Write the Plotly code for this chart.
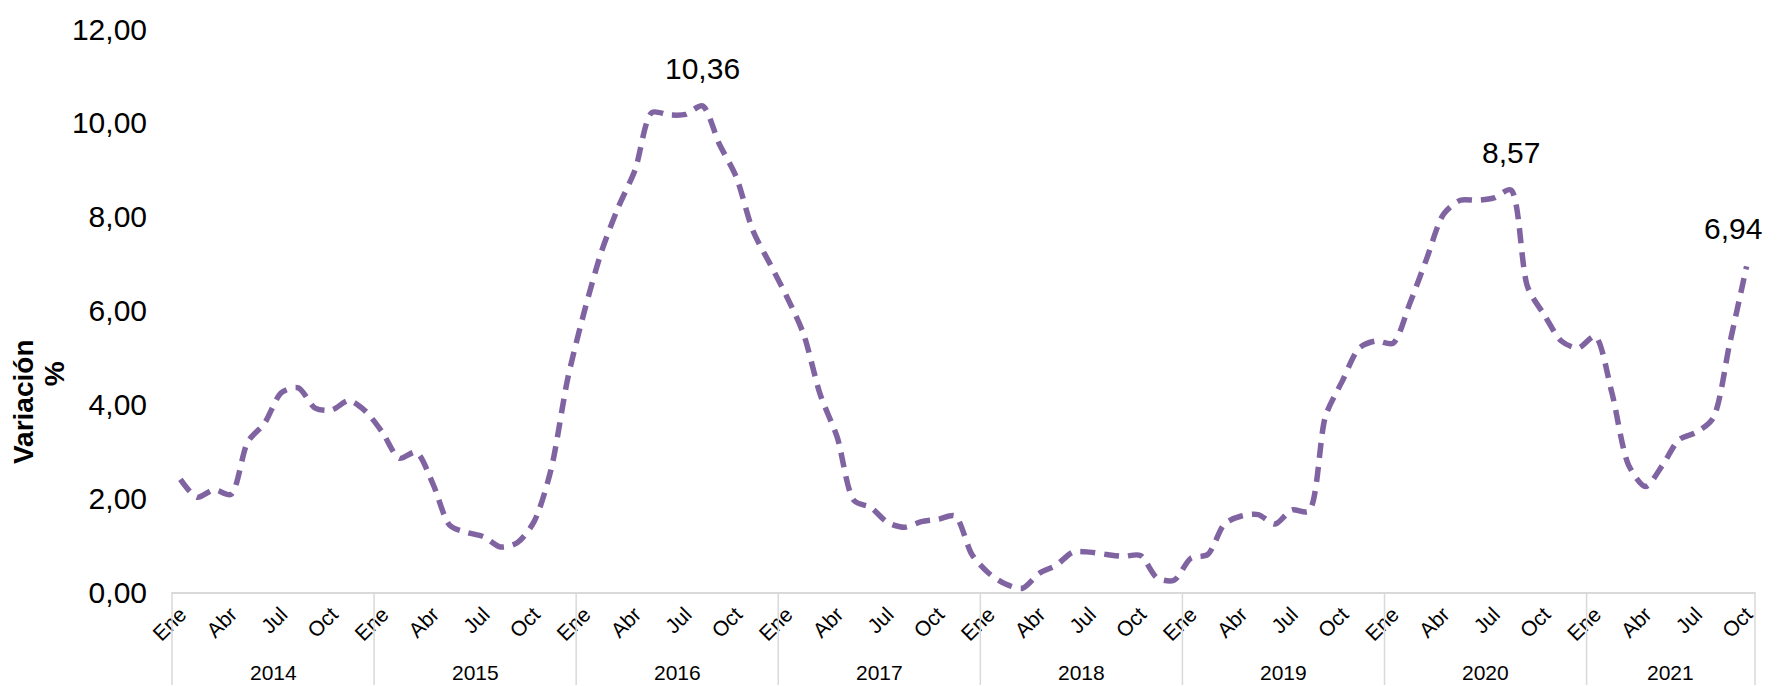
import plotly.graph_objects as go

years = ["2014", "2015", "2016", "2017", "2018", "2019", "2020", "2021"]
month_names = ["Ene", "Feb", "Mar", "Abr", "May", "Jun", "Jul", "Ago", "Sep", "Oct", "Nov", "Dic"]
shown_months = ["Ene", "Abr", "Jul", "Oct"]
months_in_year = [12, 12, 12, 12, 12, 12, 12, 10]

variacion = [
    # 2014
    2.40, 2.02, 2.18, 2.08, 3.20, 3.60, 4.25, 4.35, 3.92, 3.88, 4.08, 3.85,
    # 2015
    3.40, 2.85, 2.98, 2.30, 1.42, 1.27, 1.18, 0.96, 1.05, 1.50, 2.60, 4.55,
    # 2016
    6.00, 7.25, 8.20, 9.00, 10.22, 10.17, 10.18, 10.36, 9.55, 8.85, 7.70, 7.00,
    # 2017
    6.30, 5.50, 4.20, 3.30, 1.95, 1.80, 1.48, 1.38, 1.50, 1.55, 1.62, 0.80,
    # 2018
    0.40, 0.17, 0.08, 0.40, 0.57, 0.85, 0.85, 0.80, 0.76, 0.78, 0.30, 0.25,
    # 2019
    0.72, 0.80, 1.45, 1.62, 1.65, 1.45, 1.75, 1.72, 3.75, 4.50, 5.20, 5.35,
    # 2020
    5.30, 6.15, 7.10, 8.05, 8.35, 8.35, 8.40, 8.57, 6.50, 5.90, 5.35, 5.20,
    # 2021
    5.45, 4.25, 2.70, 2.25, 2.70, 3.25, 3.40, 3.70, 5.30, 6.94,
]

labelled_points = [31, 79, 93]  # indices with data labels

# build category positions
x_idx = []
month_lbl = []
year_start = []
k = 0
for y, n in zip(years, months_in_year):
    year_start.append(k)
    for m in range(n):
        x_idx.append(k)
        month_lbl.append(month_names[m])
        k += 1
n_pts = k
x_range = [-0.5, n_pts - 0.5]

tickvals = [i for i, m in zip(x_idx, month_lbl) if m in shown_months]
ticktext = [m for m in month_lbl if m in shown_months]

W, H = 1779, 686
ML, MR, MT, MB = 172, 24, 23, 94
plot_h = H - MT - MB

COLOR = "#8064A2"
FONT = "Liberation Sans, Arial, sans-serif"

fig = go.Figure()
fig.add_trace(go.Scatter(
    x=x_idx, y=variacion, mode="lines",
    line=dict(color=COLOR, width=5.5, dash="15px,9px", shape="spline", smoothing=0.8),
    hoverinfo="skip", showlegend=False,
))

annotations = []
for i in labelled_points:
    annotations.append(dict(
        x=x_idx[i], y=variacion[i], xref="x", yref="y",
        text=f"{variacion[i]:.2f}".replace(".", ","),
        showarrow=False, yanchor="bottom", yshift=19,
        xshift=-14 if i == n_pts - 1 else 0,
        font=dict(size=30, color="#000000", family=FONT),
    ))

def xpaper(v):
    return (v - x_range[0]) / (x_range[1] - x_range[0])

shapes = []
bottom_paper = -(MB) / plot_h
for s in year_start + [n_pts]:
    xp = xpaper(s - 0.5)
    shapes.append(dict(type="line", xref="paper", yref="paper",
                       x0=xp, x1=xp, y0=0, y1=bottom_paper,
                       line=dict(color="#D9D9D9", width=1.5)))

for y, s, n in zip(years, year_start, months_in_year):
    annotations.append(dict(
        x=xpaper(s - 0.5 + n / 2), y=-(673 - (H - MB)) / plot_h,
        xref="paper", yref="paper", text=y, showarrow=False,
        yanchor="middle", xanchor="center",
        font=dict(size=21, color="#000000", family=FONT),
    ))

# y-axis title (two lines)
annotations.append(dict(
    x=-(ML - 23) / (W - ML - MR), y=1 - (400 - MT) / plot_h,
    xref="paper", yref="paper", text="<b>Variación</b>", textangle=-90,
    showarrow=False, xanchor="center", yanchor="middle",
    font=dict(size=28, color="#000000", family=FONT),
))
annotations.append(dict(
    x=-(ML - 54) / (W - ML - MR), y=1 - (372 - MT) / plot_h,
    xref="paper", yref="paper", text="<b>%</b>", textangle=-90,
    showarrow=False, xanchor="center", yanchor="middle",
    font=dict(size=28, color="#000000", family=FONT),
))

fig.update_layout(
    width=W, height=H,
    margin=dict(l=ML, r=MR, t=MT, b=MB, pad=0),
    paper_bgcolor="white", plot_bgcolor="white",
    separators=",.",
    font=dict(family=FONT, color="#000000"),
    shapes=shapes, annotations=annotations,
    xaxis=dict(
        range=x_range, tickmode="array", tickvals=tickvals, ticktext=ticktext,
        tickangle=-45, tickfont=dict(size=21, family=FONT, color="#000000"),
        showgrid=False, zeroline=False, showline=True, linecolor="#D9D9D9",
        linewidth=1.5, ticks="", fixedrange=True,
    ),
    yaxis=dict(
        range=[0, 12], tickmode="linear", tick0=0, dtick=2, tickformat=".2f",
        tickfont=dict(size=30, family=FONT, color="#000000"),
        showgrid=False, zeroline=False, showline=False, ticks="",
        ticklabelstandoff=24, fixedrange=True,
    ),
)

fig.write_html("out.html", post_script="document.body.style.margin='0';",
               config={"displayModeBar": False})
